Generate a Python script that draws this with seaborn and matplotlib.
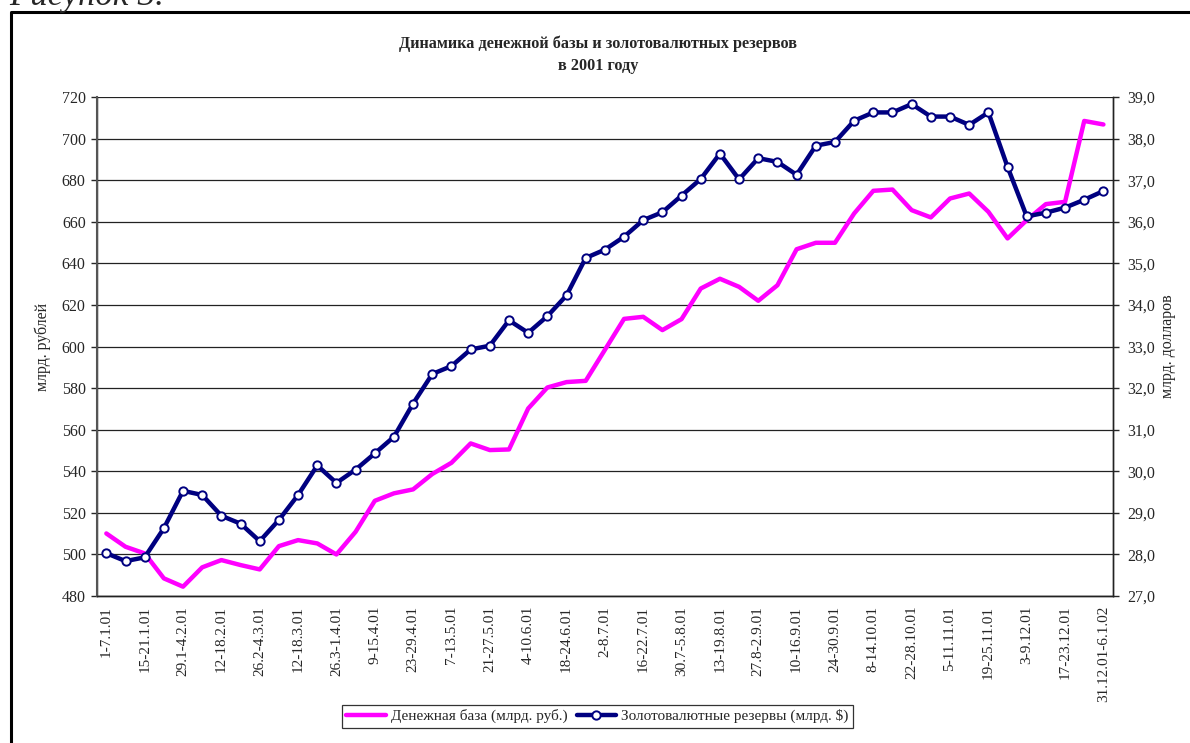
import numpy as np
import pandas as pd
import matplotlib
matplotlib.use("Agg")
import matplotlib.pyplot as plt
from matplotlib.lines import Line2D
import seaborn as sns

# Weekly data, 2001 (53 weeks)
money_base = [510.1, 503.7, 500.5, 488.5, 484.5, 493.8, 497.3, 494.9, 492.8, 504.0,
              506.9, 505.3, 500.0, 510.9, 525.8, 529.4, 531.3, 538.7, 544.1, 553.4,
              550.2, 550.5, 570.2, 580.3, 582.9, 583.5, 598.4, 613.3, 614.3, 607.9,
              613.2, 627.9, 632.6, 628.7, 622.0, 629.5, 646.8, 649.9, 649.9, 664.0,
              674.9, 675.5, 665.6, 662.1, 671.2, 673.6, 664.8, 652.0, 660.8, 668.5,
              669.6, 708.5, 706.8]
reserves = [28.03, 27.84, 27.93, 28.63, 29.53, 29.43, 28.93, 28.74, 28.32, 28.83,
            29.43, 30.14, 29.72, 30.04, 30.43, 30.83, 31.63, 32.34, 32.53, 32.93,
            33.02, 33.63, 33.33, 33.73, 34.23, 35.13, 35.33, 35.64, 36.04, 36.23,
            36.63, 37.03, 37.64, 37.02, 37.53, 37.44, 37.13, 37.83, 37.92, 38.43,
            38.63, 38.63, 38.83, 38.53, 38.53, 38.33, 38.63, 37.32, 36.13, 36.22,
            36.34, 36.53, 36.74]
# labels shown under every second week
week_labels = ["1-7.1.01", "15-21.1.01", "29.1-4.2.01", "12-18.2.01", "26.2-4.3.01",
               "12-18.3.01", "26.3-1.4.01", "9-15.4.01", "23-29.4.01", "7-13.5.01",
               "21-27.5.01", "4-10.6.01", "18-24.6.01", "2-8.7.01", "16-22.7.01",
               "30.7-5.8.01", "13-19.8.01", "27.8-2.9.01", "10-16.9.01", "24-30.9.01",
               "8-14.10.01", "22-28.10.01", "5-11.11.01", "19-25.11.01", "3-9.12.01",
               "17-23.12.01", "31.12.01-6.1.02"]

df = pd.DataFrame({"week": np.arange(len(money_base)),
                   "base": money_base, "res": reserves})

sns.set_style("white")
plt.rcParams['font.family'] = ['Liberation Serif', 'DejaVu Serif']

fig = plt.figure(figsize=(11.9, 7.43), dpi=100)
ax = fig.add_axes([0.0813, 0.1978, 0.9353 - 0.0813, 0.8694 - 0.1978])
ax2 = ax.twinx()

sns.lineplot(data=df, x="week", y="base", ax=ax, color="#FF00FF", lw=3.2)
sns.lineplot(data=df, x="week", y="res", ax=ax2, color="#000080", lw=3.2,
             marker="o", markersize=6, markerfacecolor="white",
             markeredgecolor="#000080", markeredgewidth=1.4)

n = len(money_base)
ax.set_xlim(-0.5, n - 0.5)
ax.set_ylim(480, 720)
ax2.set_ylim(27, 39)
ax.set_yticks(np.arange(480, 721, 20))
ax2.set_yticks(np.arange(27, 39.1, 1))
ax2.set_yticklabels([f"{v:.1f}".replace(".", ",") for v in np.arange(27, 39.1, 1)])

# category ticks at boundaries, labels at centres
ax.set_xticks(np.arange(0, n, 2))
ax.set_xticklabels(week_labels, rotation=90, fontsize=11)
ax.set_xticks(np.arange(-0.5, n, 1), minor=True)
ax.tick_params(axis="x", which="major", length=0, pad=7)
ax.tick_params(axis="x", which="minor", direction="inout", length=8, width=1, color="black")
ax.tick_params(axis="y", direction="out", length=4, width=1, labelsize=11.5, pad=4, left=True)
ax2.tick_params(axis="y", direction="out", length=4, width=1, labelsize=11.5, pad=6, right=True)

ax.grid(axis="y", color="#222222", lw=0.9)
ax.grid(axis="x", visible=False)
ax2.grid(False)
ax.set_xlabel("")
ax.set_ylabel("млрд. рублей", fontsize=11.5, labelpad=8)
ax2.set_ylabel("млрд. долларов", fontsize=11.5, rotation=90, labelpad=4)

for a in (ax, ax2):
    for s in a.spines.values():
        s.set_color("#222222")
        s.set_linewidth(1)
    a.spines["top"].set_visible(False)
ax2.spines["left"].set_color("#555555")
ax2.spines["left"].set_linewidth(1.5)

fig.text(0.5025, 0.941, "Динамика денежной базы и золотовалютных резервов",
         ha="center", va="center", fontsize=11.7, fontweight="bold")
fig.text(0.5025, 0.911, "в 2001 году", ha="center", va="center",
         fontsize=11.7, fontweight="bold")

# page caption (cut by the top of the picture) and chart frame
fig.text(0.008, 0.993, "Рисунок 3.", ha="left", va="baseline",
         fontsize=25, style="italic")
fig.add_artist(Line2D([0.0092, 0.0092, 1.2], [-0.2, 0.984, 0.984],
                      transform=fig.transFigure, color="black", lw=2.2, clip_on=False))

handles = [Line2D([], [], color="#FF00FF", lw=3.2),
           Line2D([], [], color="#000080", lw=3.2, marker="o", markersize=6,
                  markerfacecolor="white", markeredgecolor="#000080", markeredgewidth=1.4)]
leg = fig.legend(handles, ["Денежная база (млрд. руб.)", "Золотовалютные резервы (млрд. $)"],
                 loc="center", bbox_to_anchor=(0.502, 0.036), ncol=2, fontsize=11,
                 frameon=True, fancybox=False, handlelength=2.6, handletextpad=0.3,
                 columnspacing=0.6, borderpad=0.3)
leg.get_frame().set_edgecolor("black")
leg.get_frame().set_linewidth(0.9)

fig.savefig("out.png", dpi=100)
